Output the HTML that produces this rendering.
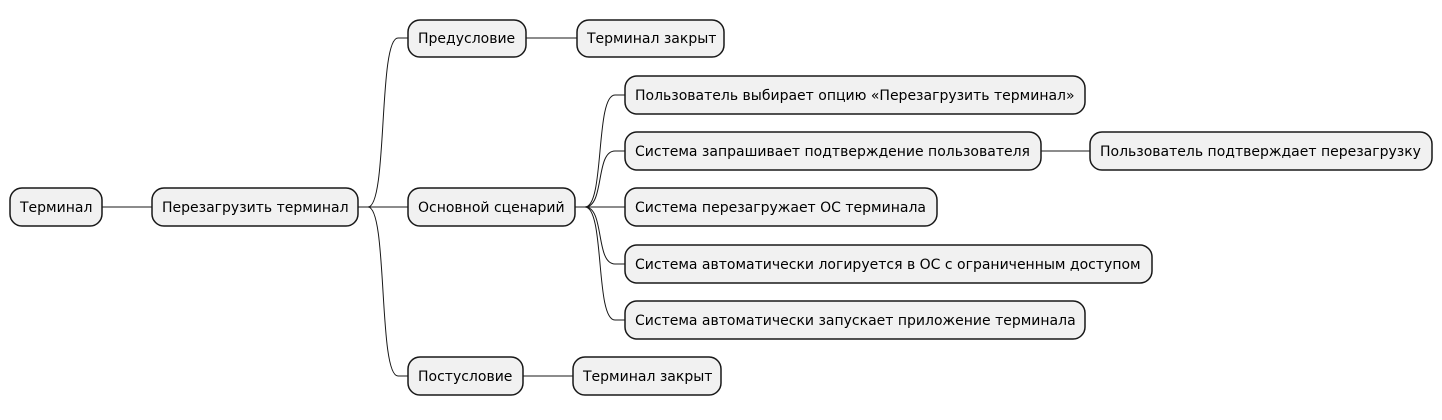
<!DOCTYPE html>
<html><head><meta charset="utf-8"><style>
html,body{margin:0;padding:0;background:#fff;}
svg text{font-family:"DejaVu Sans","Liberation Sans",sans-serif;font-size:14px;fill:#000;}
</style></head><body>
<svg width="1442" height="415" xmlns="http://www.w3.org/2000/svg">
<g fill="none" stroke="#181818" stroke-width="1">
<path d="M102,207 L152,207"/>
<path d="M358,207 L368,207 C388,207 378,38 398,38 L408,38"/>
<path d="M358,207 L408,207"/>
<path d="M358,207 L368,207 C388,207 378,376 398,376 L408,376"/>
<path d="M526,38 L577,38"/>
<path d="M523,376 L573,376"/>
<path d="M575,207 L585,207 C605,207 595,95 615,95 L625,95"/>
<path d="M575,207 L585,207 C605,207 595,151 615,151 L625,151"/>
<path d="M575,207 L625,207"/>
<path d="M575,207 L585,207 C605,207 595,264 615,264 L625,264"/>
<path d="M575,207 L585,207 C605,207 595,320 615,320 L625,320"/>
<path d="M1041,151 L1090,151"/>
</g>
<g fill="#f1f1f1" stroke="#181818" stroke-width="1.5">
<rect x="10" y="188" width="92" height="38" rx="12"/>
<rect x="152" y="188" width="206" height="38" rx="12"/>
<rect x="408" y="20" width="118" height="37" rx="12"/>
<rect x="577" y="20" width="147" height="37" rx="12"/>
<rect x="408" y="188" width="167" height="38" rx="12"/>
<rect x="625" y="76" width="460" height="38" rx="12"/>
<rect x="625" y="132" width="416" height="38" rx="12"/>
<rect x="1090" y="132" width="342" height="38" rx="12"/>
<rect x="625" y="188" width="312" height="38" rx="12"/>
<rect x="625" y="245" width="527" height="38" rx="12"/>
<rect x="625" y="301" width="460" height="38" rx="12"/>
<rect x="408" y="357" width="115" height="38" rx="12"/>
<rect x="573" y="357" width="148" height="38" rx="12"/>
</g>
<g>
<text x="20" y="212">Терминал</text>
<text x="162" y="212">Перезагрузить терминал</text>
<text x="418" y="43">Предусловие</text>
<text x="587" y="43">Терминал закрыт</text>
<text x="418" y="212">Основной сценарий</text>
<text x="635" y="100">Пользователь выбирает опцию «Перезагрузить терминал»</text>
<text x="635" y="156">Система запрашивает подтверждение пользователя</text>
<text x="1100" y="156">Пользователь подтверждает перезагрузку</text>
<text x="635" y="212">Система перезагружает ОС терминала</text>
<text x="635" y="269">Система автоматически логируется в ОС с ограниченным доступом</text>
<text x="635" y="325">Система автоматически запускает приложение терминала</text>
<text x="418" y="381">Постусловие</text>
<text x="583" y="381">Терминал закрыт</text>
</g>
</svg>
</body></html>
